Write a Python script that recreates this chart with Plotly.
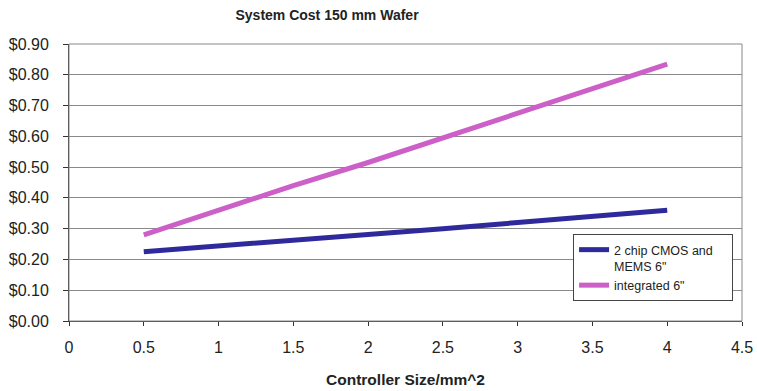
import plotly.graph_objects as go

controller_size = [0.5, 1, 1.5, 2, 2.5, 3, 3.5, 4]
two_chip = [0.225, 0.243, 0.262, 0.281, 0.300, 0.320, 0.340, 0.360]
integrated = [0.280, 0.360, 0.440, 0.515, 0.595, 0.675, 0.755, 0.835]

y_ticks = [0, 0.1, 0.2, 0.3, 0.4, 0.5, 0.6, 0.7, 0.8, 0.9]
y_labels = ["$%.2f" % v for v in y_ticks]

fig = go.Figure()
fig.add_trace(go.Scatter(x=controller_size, y=two_chip, mode="lines",
                         name="2 chip CMOS and&nbsp;&nbsp;&nbsp;&nbsp;<br>MEMS 6\"",
                         line=dict(color="#2e2a9c", width=5)))
fig.add_trace(go.Scatter(x=controller_size, y=integrated, mode="lines",
                         name="integrated 6\"",
                         line=dict(color="#cc5fc8", width=5)))

fig.update_layout(
    width=757, height=391,
    margin=dict(l=69, r=15, t=44, b=70),
    plot_bgcolor="white", paper_bgcolor="white",
    font=dict(family="Liberation Sans, Arial", size=16, color="#222"),
    title=dict(text="<b>System Cost 150 mm Wafer</b>", xref="container", x=0.432,
               xanchor="center", yref="container", y=1 - 15 / 391, yanchor="middle",
               font=dict(size=14), automargin=False),
    xaxis=dict(range=[0, 4.5], dtick=0.5, showgrid=False, ticks="outside", ticklen=4,
               tickcolor="#333", showline=True, linecolor="#333", mirror=False,
               ticklabelstandoff=8, automargin=False,
               title=dict(text="<b>Controller Size/mm^2</b>", standoff=18, font=dict(size=15.5)),
               zeroline=False),
    yaxis=dict(range=[0, 0.9], tickvals=y_ticks, ticktext=y_labels, showgrid=True,
               gridcolor="#8a8a8a", gridwidth=1, ticks="outside", ticklen=5, tickcolor="#333",
               showline=True, linecolor="#333", zeroline=False, automargin=False,
               ticklabelstandoff=11),
    legend=dict(x=0.749, y=0.314, xanchor="left", yanchor="top", valign="top",
                bordercolor="#444", borderwidth=1, bgcolor="white",
                font=dict(size=12.5), tracegroupgap=18),
    shapes=[dict(type="rect", xref="paper", yref="paper", x0=0, y0=0, x1=1, y1=1,
                 line=dict(color="#888", width=1))],
)

fig.write_html("out.html", config={"displayModeBar": False},
               post_script="document.body.style.margin='0';")
